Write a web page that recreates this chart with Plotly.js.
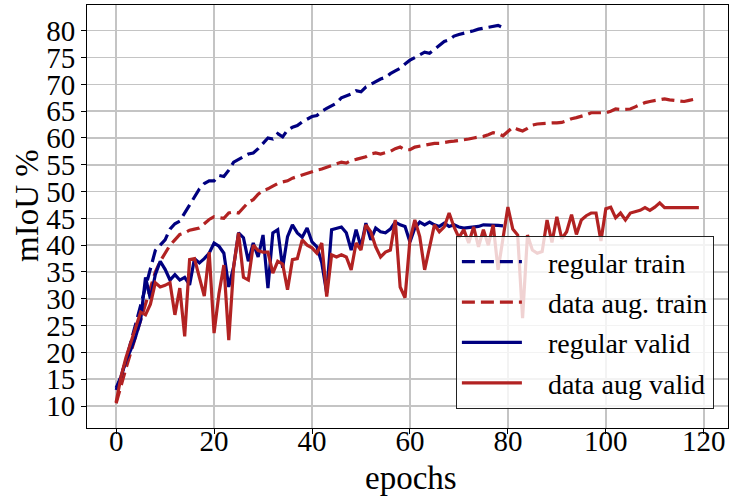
<!DOCTYPE html>
<html>
<head>
<meta charset="utf-8">
<script src="https://cdn.plot.ly/plotly-3.0.1.min.js"></script>
<style>html,body{margin:0;padding:0;background:#fff;}#chart{width:729px;height:498px;}</style>
</head>
<body>
<div id="chart"></div>
<script>
const regularTrain = [13,15.5,18.5,22,25.5,29,32.5,35.5,39,40,41,43,44,44.5,46,47.5,49,50.5,51.5,52,
52,53,52.8,54,55.5,56,56.5,57,57.2,58,59,60,59.8,60.8,60.2,61.5,62,62.3,63,63.5,
64,64.2,65,65.5,66,66.5,67.5,67.8,68.2,68.8,68.6,69.5,70,70.5,71,71.3,72,72.5,73,73.8,
74.5,75,75.5,76,75.8,76.5,77.3,78,78.3,79,79.3,79.5,79.7,80,80.3,80.5,80.6,80.8,81,80.6];

const augTrain = [10.5,14,17,20,23,26,29,32,35,37,38.5,40,41,42,42.3,42.8,43,43.2,44,44.8,
45.3,45.2,45,46,46.2,46,47,48,48.5,49.5,50.2,50.5,51,51.5,51.8,52,52.5,52.8,53.2,53.5,
53.8,54,54.2,54.5,54.8,55.2,55.5,55.3,55.8,56,56.2,56.5,57,57.2,57,57.3,57.5,58,58.3,57.8,
57.8,58.3,58.5,58.7,58.8,59,59,59.2,59.3,59.4,59.5,59.7,59.8,60,60.1,60.3,60.6,61,60.8,60.4,
61.2,62,61.6,61.3,61.8,62.4,62.6,62.7,62.8,62.8,62.8,62.9,63.2,63.6,63.8,64,64.3,64.7,64.7,64.7,
64.7,65,65.4,65.3,65.4,65.4,65.8,66.2,66.6,66.8,67,67.1,67.3,67.1,67,66.9,66.8,67,67.2,67.4];

const regularValid = [13.4,15.5,18.5,20.5,23,26,34,30,34.5,37,35.5,33.5,34.5,33.5,34,32.6,37.5,36.7,37.5,38.5,
40.4,39.8,38.5,32.2,36,42.3,41.4,37,40.4,37.8,41.9,32,42.3,42.9,35.8,41.6,43.8,42.3,41.5,43.2,
40.6,39.7,36.7,31.1,42.9,43.2,43.4,42.3,39.1,42.9,39.7,44.1,41,43.2,42.5,42.3,43,44.3,43.8,43.5,
40.6,43.2,44.3,43.8,44.3,43.8,43.5,44.1,43.5,43.8,43.4,43.2,43.3,43.4,43.5,43.8,43.8,43.8,43.7,43.6];

const augValid = [10.7,15.5,19,22,25,27.5,27,29,33,32.2,32.5,33,27,32,23,37.3,37.5,34,30.5,38.7,
23.6,31,36.3,22.3,36,42.3,34,33.5,40,39,38.7,38.7,34.8,37,36.5,31.7,37.3,37.5,41,40,
39.5,38.5,40.4,30.4,38.2,37.8,38.2,37.8,35.4,40.4,39.1,43.8,42.5,39.7,37.8,38.7,39.1,44.7,32.2,30.2,
41,44.7,41.6,35.4,39.7,43.8,42.5,43.4,46,43.4,41.4,42.9,40.4,43.4,39.7,42.9,40,43.8,35.4,41.5,
47.1,43,41.9,26.4,41.9,39.1,38.5,38.8,44.7,40.5,45.3,41.2,42.5,45.7,42,44.7,45.5,46,46,40.8,
46.8,47.1,45.1,46,44.7,46,46.3,46.5,47,46.5,47.1,47.9,47,47,47.1,47,47,47,47.1,47];

const seriesNames = ['regular train','data aug. train','regular valid','data aug valid'];
const xTitle = 'epochs', yTitle = 'mIoU %';
const NAVY = '#000080', RED = '#b22222';
const epochs = n => Array.from({length:n}, (_, i) => i);
const DASH = '13px,6px';
const PAD = '\u00a0\u00a0\u00a0';

const traces = [
  {x: epochs(regularTrain.length), y: regularTrain, name: PAD + seriesNames[0], legendgroup:'a',
   mode:'lines', line:{color:NAVY, width:3.2, dash:DASH}},
  {x: epochs(augTrain.length), y: augTrain, name: PAD + seriesNames[1], legendgroup:'b',
   mode:'lines', line:{color:RED, width:3.2, dash:DASH}},
  {x: epochs(regularValid.length), y: regularValid, name: PAD + seriesNames[2], legendgroup:'c',
   mode:'lines', line:{color:NAVY, width:3.2}},
  {x: epochs(augValid.length), y: augValid, name: PAD + seriesNames[3], legendgroup:'d',
   mode:'lines', line:{color:RED, width:3.2}}
];

const FONT = 'Liberation Serif, Times New Roman, serif';
const layout = {
  width: 729, height: 498,
  margin: {l: 87, r: 1, t: 5, b: 70},
  paper_bgcolor: '#fff', plot_bgcolor: '#fff',
  font: {family: FONT, size: 28, color: '#000'},
  showlegend: true,
  legend: {
    x: 0.978, y: 0.045, xanchor: 'right', yanchor: 'bottom',
    bgcolor: 'rgba(255,255,255,0.8)', bordercolor: '#222', borderwidth: 1,
    font: {family: FONT, size: 28, color: '#000'},
    itemwidth: 60, tracegroupgap: 1, traceorder: 'grouped'
  },
  xaxis: {
    range: [-5.95, 124.95], tickvals: [0,20,40,60,80,100,120],
    showgrid: true, gridcolor: '#c4c4c4', gridwidth: 1.5,
    zeroline: false, showline: true, linecolor: '#000', linewidth: 1, mirror: true,
    ticks: 'outside', ticklen: 5, tickcolor: '#000', tickwidth: 1,
    ticklabelstandoff: -18,
    tickfont: {family: FONT, size: 29}
  },
  yaxis: {
    range: [5.9, 84.8], tickvals: [10,15,20,25,30,35,40,45,50,55,60,65,70,75,80],
    showgrid: true, gridcolor: '#c4c4c4', gridwidth: 1.5,
    zeroline: false, showline: true, linecolor: '#000', linewidth: 1, mirror: true,
    ticks: 'outside', ticklen: 5, tickcolor: '#000', tickwidth: 1,
    tickfont: {family: FONT, size: 29}
  },
  annotations: [
    {text: xTitle, xref: 'paper', yref: 'paper', x: 0.505, y: (428 - 478) / 423,
     xanchor: 'center', yanchor: 'middle', showarrow: false,
     font: {family: FONT, size: 33, color: '#000'}},
    {text: yTitle, xref: 'paper', yref: 'paper', x: (27 - 87) / 641, y: (428 - 206) / 423,
     xanchor: 'center', yanchor: 'middle', showarrow: false, textangle: -90,
     font: {family: FONT, size: 33, color: '#000'}}
  ]
};

Plotly.newPlot('chart', traces, layout, {displayModeBar: false, staticPlot: true});
</script>
</body>
</html>
